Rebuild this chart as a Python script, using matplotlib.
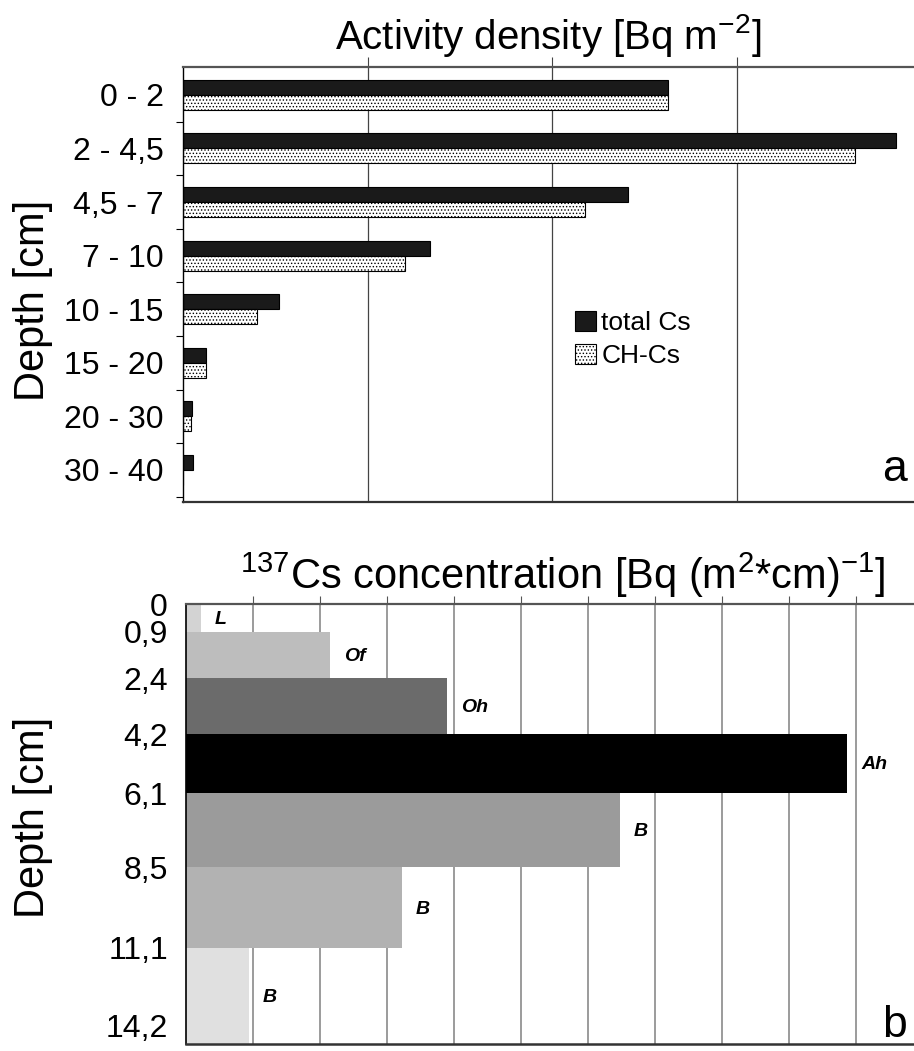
import numpy as np
import matplotlib.pyplot as plt

plt.rcParams['font.family'] = ['Liberation Sans', 'DejaVu Sans']
plt.rcParams['mathtext.fontset'] = 'custom'
plt.rcParams['mathtext.rm'] = 'Liberation Sans'
plt.rcParams['mathtext.it'] = 'Liberation Sans:italic'
plt.rcParams['hatch.linewidth'] = 0.6

# --- panel a : activity density per depth class (arbitrary units)
depth_classes = ["0 - 2", "2 - 4,5", "4,5 - 7", "7 - 10", "10 - 15", "15 - 20", "20 - 30", "30 - 40"]
total_cs = [2.63, 3.86, 2.41, 1.34, 0.52, 0.125, 0.05, 0.055]
ch_cs = [2.63, 3.64, 2.18, 1.20, 0.40, 0.125, 0.045, 0.0]

# --- panel b : 137Cs concentration per soil horizon
horizons = ["L", "Of", "Oh", "Ah", "B", "B", "B"]
depth_top = [0.0, 0.9, 2.4, 4.2, 6.1, 8.5, 11.1]
depth_bottom = [0.9, 2.4, 4.2, 6.1, 8.5, 11.1, 14.2]
concentration = [0.22, 2.15, 3.90, 9.87, 6.48, 3.22, 0.94]
shades = ["#d3d3d3", "#bdbdbd", "#6b6b6b", "#000000", "#9b9b9b", "#b2b2b2", "#e0e0e0"]

fig = plt.figure(figsize=(9.14, 10.51), dpi=100)
W, H = 914, 1051

ax1 = fig.add_axes([183 / W, 1 - 502 / H, 731 / W, 435 / H])
ax2 = fig.add_axes([186 / W, 1 - 1044 / H, 728 / W, 440 / H])

# ----------------------------------------------------------------- #
# panel a
y = np.arange(len(depth_classes))
ax1.barh(y - 0.14, total_cs, height=0.28, color="#1a1a1a", edgecolor="black",
         linewidth=0.8, label="total Cs")
ax1.barh(y + 0.14, ch_cs, height=0.28, color="white", edgecolor="black",
         hatch=".....", linewidth=0.8, label="CH-Cs")

ax1.set_xlim(0, 3.96)
ax1.set_ylim(len(depth_classes) - 0.4, -0.52)
ax1.set_yticks(y)
ax1.set_yticklabels(depth_classes, fontsize=23)
ax1.set_yticks(np.arange(0.5, len(depth_classes), 1), minor=True)
ax1.tick_params(axis="y", which="major", length=0, pad=14)
ax1.tick_params(axis="y", which="minor", length=5, width=0.8, direction="out")
ax1.set_xticks([1, 2, 3])
ax1.xaxis.tick_top()
ax1.tick_params(axis="x", length=7, width=0.8, color="#444444",
                labeltop=False, labelbottom=False)
ax1.grid(axis="x", color="#444444", linewidth=0.9)
ax1.set_axisbelow(True)
ax1.spines["right"].set_visible(False)
ax1.spines["top"].set_color("#555555")
ax1.spines["top"].set_linewidth(1.6)
ax1.spines["bottom"].set_color("#333333")
ax1.spines["bottom"].set_linewidth(1.6)
ax1.spines["left"].set_linewidth(1.0)

ax1.legend(loc="upper left", bbox_to_anchor=(0.536, 0.44), frameon=False,
           fontsize=19, handlelength=0.8, handleheight=0.8, handletextpad=0.2,
           labelspacing=0.35, borderaxespad=0, borderpad=0)
ax1.text(0.99, 0.048, "a", transform=ax1.transAxes, fontsize=32,
         ha="right", va="baseline")

# ----------------------------------------------------------------- #
# panel b
heights = np.array(depth_bottom) - np.array(depth_top)
ax2.barh(depth_top, concentration, height=heights, align="edge", color=shades,
         linewidth=0)
for name, c, t, b in zip(horizons, concentration, depth_top, depth_bottom):
    ax2.annotate(name, xy=(c, (t + b) / 2), xytext=(10, -1), textcoords="offset points",
                 fontsize=14, fontweight="bold", style="italic", va="center")

depth_ticks = depth_top + [depth_bottom[-1]]
depth_labels = ["0" if d == 0 else f"{d:.1f}".replace(".", ",") for d in depth_ticks]
ax2.set_xlim(0, 10.87)
ax2.set_ylim(depth_bottom[-1], 0)
ax2.set_yticks(depth_ticks)
ax2.set_yticklabels(depth_labels, fontsize=23)
ax2.get_yticklabels()[-1].set_va("bottom")  # last label sits above the bottom spine
ax2.tick_params(axis="y", length=0, pad=13)
ax2.set_xticks(range(1, 11))
ax2.xaxis.tick_top()
ax2.tick_params(axis="x", length=6, width=0.8, color="#555555",
                labeltop=False, labelbottom=False)
ax2.grid(axis="x", color="#8a8a8a", linewidth=1.2)
ax2.set_axisbelow(True)
ax2.spines["right"].set_visible(False)
ax2.spines["top"].set_color("#555555")
ax2.spines["top"].set_linewidth(1.6)
ax2.spines["bottom"].set_color("#333333")
ax2.spines["bottom"].set_linewidth(1.8)
ax2.spines["left"].set_linewidth(1.2)
ax2.text(0.99, 0.015, "b", transform=ax2.transAxes, fontsize=32,
         ha="right", va="baseline")

# titles and axis labels
fig.text(548 / W, 1 - 35 / H, r"Activity density [Bq m$^{\mathregular{-2}}$]",
         ha="center", va="center", fontsize=29)
fig.text(563 / W, 1 - 575 / H,
         r"$^{\mathregular{137}}$Cs concentration [Bq (m$^{\mathregular{2}}$*cm)$^{\mathregular{-1}}$]",
         ha="center", va="center", fontsize=30)
fig.text(33 / W, 1 - 300 / H, "Depth [cm]", rotation=90, ha="center", va="center", fontsize=30)
fig.text(33 / W, 1 - 817 / H, "Depth [cm]", rotation=90, ha="center", va="center", fontsize=30)

fig.savefig("out.png", dpi=100)
